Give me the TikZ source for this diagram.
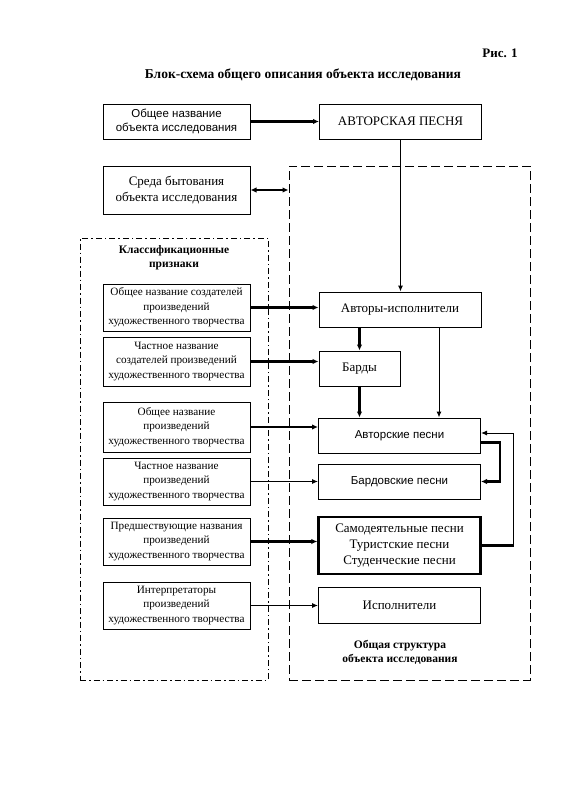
\documentclass[tikz,border=0pt]{standalone}
\usepackage{fontspec}
\setmainfont{Liberation Serif}
\setsansfont{Liberation Sans}
\usetikzlibrary{arrows.meta,positioning,calc}

\begin{document}
\begin{tikzpicture}[x=1pt,y=-1pt,
   every node/.style={font=\fontsize{13}{15}\selectfont},
   box/.style={draw,rectangle,line width=1pt,align=center,inner sep=1pt},
   lbox/.style={box,minimum width=147pt,font=\fontsize{11.2}{14.5}\selectfont},
   rbox/.style={box,minimum width=162pt,minimum height=35pt},
   frame/.style={draw,rectangle,line width=1pt,inner sep=0pt},
   head/.style={font=\fontsize{11.5}{14}\selectfont\bfseries,align=center},
   ln/.style={line width=1pt,-{Latex[length=6pt,width=5pt]}},
   tk/.style={line width=2.3pt,-{Latex[length=6pt,width=5.5pt]}}
]
\useasboundingbox (0,0) rectangle (566,800);

% headings
\node[font=\fontsize{13}{15}\selectfont\bfseries] (fig) at (500,53) {Рис. 1};
\node[font=\fontsize{13.5}{16}\selectfont\bfseries] (title) at (303,75)
  {Блок-схема общего описания объекта исследования};

% frames
\node[frame,dashed,dash pattern=on 9pt off 4pt,minimum width=241pt,minimum height=514pt]
  (struct) at (409.5,423) {};
\node[frame,dash pattern=on 6pt off 3pt on 1.5pt off 3pt,minimum width=188pt,minimum height=442pt]
  (class) at (174,459) {};
\node[head] (classlbl) at (174,258) {Классификационные\\признаки};
\node[head] (structlbl) at (400,652) {Общая структура\\объекта исследования};

% top row
\node[lbox,minimum height=35pt,font=\sffamily\fontsize{11.5}{14}\selectfont] (obj) at (176.5,121.5)
  {Общее название\\объекта исследования};
\node[rbox] (song) at (400.5,121.5) {АВТОРСКАЯ ПЕСНЯ};
\node[lbox,minimum height=48pt,font=\fontsize{13}{16}\selectfont] (env) at (176.5,190)
  {Среда бытования\\объекта исследования};
\draw[tk] (obj) -- (song);
\draw[line width=2.3pt,{Latex[length=6pt,width=5.5pt]}-{Latex[length=6pt,width=5.5pt]}]
  (env.east) -- (env.east -| struct.west);

% classification features
\node[lbox,minimum height=47pt] (crA) at (176.5,307.5)
  {Общее название создателей\\произведений\\художественного творчества};
\node[lbox,minimum height=49pt] (crB) at (176.5,361.5)
  {Частное название\\создателей произведений\\художественного творчества};
\node[lbox,minimum height=50pt] (wkA) at (176.5,427)
  {Общее название\\произведений\\художественного творчества};
\node[lbox,minimum height=47pt] (wkB) at (176.5,481.5)
  {Частное название\\произведений\\художественного творчества};
\node[lbox,minimum height=47pt] (wkC) at (176.5,541.5)
  {Предшествующие названия\\произведений\\художественного творчества};
\node[lbox,minimum height=47pt] (intp) at (176.5,605.5)
  {Интерпретаторы\\произведений\\художественного творчества};

% structure
\node[rbox] (authperf) at (400,309.5) {Авторы-исполнители};
\node[box,minimum width=81pt,minimum height=35pt] (bards) at (359.5,368.5) {Барды};
\node[rbox,font=\sffamily\fontsize{11.5}{14}\selectfont] (asongs) at (399.5,435.5) {Авторские песни};
\node[rbox,font=\sffamily\fontsize{11.5}{14}\selectfont] (bsongs) at (399.5,481.5) {Бардовские песни};
\node[rbox,line width=2.3pt,minimum height=57pt,font=\fontsize{13}{16}\selectfont] (amateur) at (399.5,545.5)
  {Самодеятельные песни\\Туристские песни\\Студенческие песни};
\node[rbox,minimum height=36pt] (perf) at (399.5,605) {Исполнители};

\draw[ln] (song) -- (song |- authperf.north);
\draw[tk] (crA.east) -- (crA.east -| authperf.west);
\draw[tk] (crB.east) -- (crB.east -| bards.west);
\draw[tk] (authperf.south -| bards) -- (bards.north);
\draw[ln] ([xshift=39pt]authperf.south) -- ([xshift=39pt]authperf.south |- asongs.north);
\draw[tk] (bards.south) -- (bards.south |- asongs.north);
\draw[tk] (wkA.east) -- (wkA.east -| asongs.west);
\draw[ln] (wkB.east) -- (wkB.east -| bsongs.west);
\draw[tk] (wkC.east) -- (wkC.east -| amateur.west);
\draw[ln] (intp.east) -- (intp.east -| perf.west);

% feedback links
\draw[tk] ([yshift=-7pt]asongs.east) -- ++(19,0) |- (bsongs.east);
\draw[line width=2.3pt] (amateur.east) -- ++(32,0) coordinate (back);
\draw[ln] (back) |- ([yshift=2.5pt]asongs.east);

\end{tikzpicture}
\end{document}
